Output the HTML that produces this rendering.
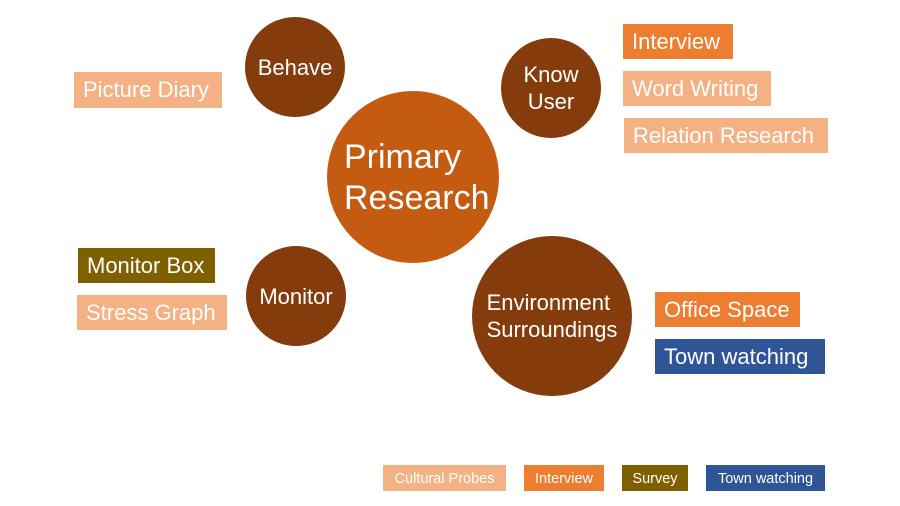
<!DOCTYPE html>
<html><head><style>
body{margin:0;width:900px;height:506px;background:#fff;position:relative;overflow:hidden;font-family:"Liberation Sans",sans-serif;}
.c{position:absolute;border-radius:50%;background:#843C0C;color:#fff;display:flex;align-items:center;justify-content:center;text-align:center;font-size:22px;line-height:27px;}
.b{position:absolute;color:#fff;font-size:22px;display:flex;align-items:center;padding-left:9px;box-sizing:border-box;white-space:nowrap;}
.l{background:#F4B183}.o{background:#ED7D31}.y{background:#7F6000}.n{background:#2F5597}
.g{position:absolute;color:#fff;font-size:14.5px;display:flex;align-items:center;justify-content:center;top:465px;height:26px;padding-top:2px;box-sizing:border-box}
</style></head><body>
<div class="c" style="left:245px;top:17px;width:100px;height:100px">Behave</div>
<div class="c" style="left:501px;top:38px;width:100px;height:100px">Know<br>User</div>
<div class="c" style="left:327px;top:91px;width:172px;height:172px;background:#C55A11;font-size:34px;line-height:41px;text-align:left;justify-content:flex-start;padding-left:17px;padding-top:2px;box-sizing:border-box">Primary<br>Research</div>
<div class="c" style="left:246px;top:246px;width:100px;height:100px">Monitor</div>
<div class="c" style="left:472px;top:236px;width:160px;height:160px;text-align:left">Environment<br>Surroundings</div>
<div class="b l" style="left:74px;top:72px;width:148px;height:36px">Picture Diary</div>
<div class="b o" style="left:623px;top:24px;width:110px;height:35px">Interview</div>
<div class="b l" style="left:623px;top:71px;width:148px;height:35px">Word Writing</div>
<div class="b l" style="left:624px;top:118px;width:204px;height:35px">Relation Research</div>
<div class="b y" style="left:78px;top:248px;width:137px;height:35px">Monitor Box</div>
<div class="b l" style="left:77px;top:295px;width:150px;height:35px">Stress Graph</div>
<div class="b o" style="left:655px;top:292px;width:145px;height:35px">Office Space</div>
<div class="b n" style="left:655px;top:339px;width:170px;height:35px">Town watching</div>
<div class="g l" style="left:383px;width:123px">Cultural Probes</div>
<div class="g o" style="left:524px;width:80px">Interview</div>
<div class="g y" style="left:622px;width:66px">Survey</div>
<div class="g n" style="left:706px;width:119px">Town watching</div>
</body></html>
